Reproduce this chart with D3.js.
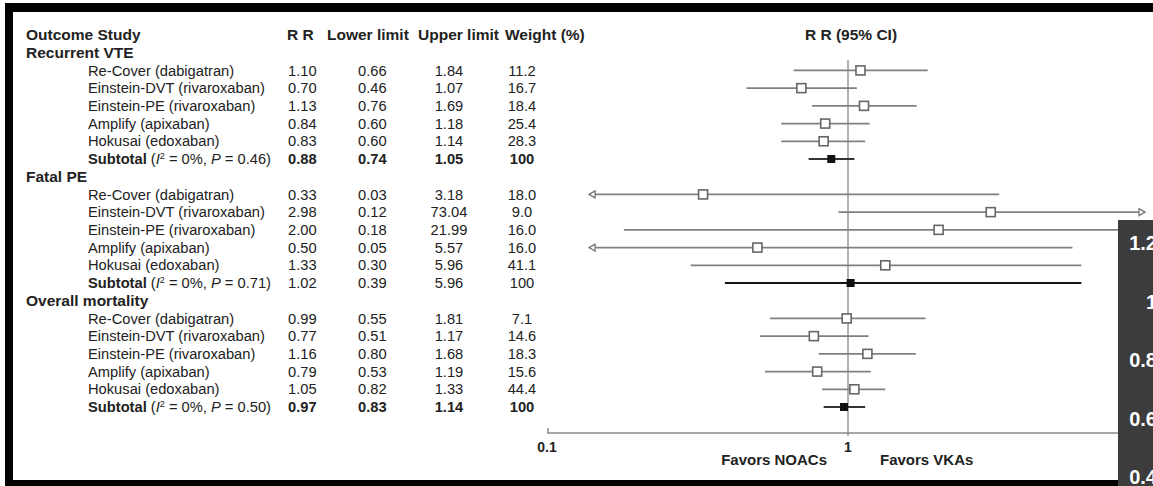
<!DOCTYPE html>
<html>
<head>
<meta charset="utf-8">
<script src="https://cdn.jsdelivr.net/npm/d3@7"></script>
<style>
  body { margin: 0; background: #fff; }
  svg { display: block; font-family: "Liberation Sans", Arial, sans-serif; }
</style>
</head>
<body>
<svg id="chart" width="1153" height="486"></svg>
<script>
// table data
const groups  = ["Recurrent VTE", "Fatal PE", "Overall mortality"];
const studies = ["Re-Cover (dabigatran)", "Einstein-DVT (rivaroxaban)", "Einstein-PE (rivaroxaban)",
                 "Amplify (apixaban)", "Hokusai (edoxaban)"];

// last entry of each array = subtotal
const rrVte  = ["1.10", "0.70", "1.13", "0.84", "0.83", "0.88"];
const loVte  = ["0.66", "0.46", "0.76", "0.60", "0.60", "0.74"];
const hiVte  = ["1.84", "1.07", "1.69", "1.18", "1.14", "1.05"];
const wtVte  = ["11.2", "16.7", "18.4", "25.4", "28.3", "100"];

const rrPe   = ["0.33", "2.98", "2.00", "0.50", "1.33", "1.02"];
const loPe   = ["0.03", "0.12", "0.18", "0.05", "0.30", "0.39"];
const hiPe   = ["3.18", "73.04", "21.99", "5.57", "5.96", "5.96"];
const wtPe   = ["18.0", "9.0", "16.0", "16.0", "41.1", "100"];
// the published figure starts the Einstein-DVT line near 0.93, not at 0.12
const peLineStart = [0.03, 0.93, 0.18, 0.05, 0.30, 0.39];

const rrMort = ["0.99", "0.77", "1.16", "0.79", "1.05", "0.97"];
const loMort = ["0.55", "0.51", "0.80", "0.53", "0.82", "0.83"];
const hiMort = ["1.81", "1.17", "1.68", "1.19", "1.33", "1.14"];
const wtMort = ["7.1", "14.6", "18.3", "15.6", "44.4", "100"];

const hetI2 = ["0%", "0%", "0%"];
const hetP  = ["0.46", "0.71", "0.50"];

const xTicks     = [0.1, 1];
const panelTicks = [1.2, 1, 0.8, 0.6, 0.4];   // edge of a neighbouring chart

const table = [
  { rr: rrVte,  lo: loVte,  hi: hiVte,  wt: wtVte,  start: loVte.map(Number), boldSub: true },
  { rr: rrPe,   lo: loPe,   hi: hiPe,   wt: wtPe,   start: peLineStart,       boldSub: false },
  { rr: rrMort, lo: loMort, hi: hiMort, wt: wtMort, start: loMort.map(Number), boldSub: true }
];

const svg = d3.select("#chart");
const ink = "#222";
const fs = 14.7;   // body text size

// rows: 0 header, then 7 rows per group (label, 5 studies, subtotal)
const y = d3.scaleLinear().domain([0, 21]).range([35, 407]);
const x = d3.scaleLog().domain([0.1, 10]).range([547, 1149]);
const clipLo = 0.138, clipHi = 9.7;   // where the arrows sit

// header
const head = svg.append("g").attr("fill", ink).attr("font-weight", "bold").attr("font-size", 15.5);
head.append("text").attr("x", 26).attr("y", y(0)).attr("dy", "0.35em").text("Outcome Study");
head.append("text").attr("x", 287).attr("y", y(0)).attr("dy", "0.35em").text("R R");
head.append("text").attr("x", 327).attr("y", y(0)).attr("dy", "0.35em").text("Lower limit");
head.append("text").attr("x", 418).attr("y", y(0)).attr("dy", "0.35em").text("Upper limit");
head.append("text").attr("x", 505).attr("y", y(0)).attr("dy", "0.35em").text("Weight (%)");
head.append("text").attr("x", x(1) + 3).attr("y", y(0)).attr("dy", "0.35em")
    .attr("text-anchor", "middle").text("R R (95% CI)");

// reference line at RR = 1
svg.append("line")
   .attr("x1", x(1)).attr("x2", x(1))
   .attr("y1", 60).attr("y2", 436)
   .attr("stroke", "#999").attr("stroke-width", 1.5);

// x-axis
svg.append("line")
   .attr("x1", x(0.1)).attr("x2", 1153)
   .attr("y1", 433).attr("y2", 433)
   .attr("stroke", "#8a8a8a").attr("stroke-width", 1.5);
svg.append("line")
   .attr("x1", x(0.1) + 1).attr("x2", x(0.1) + 1)
   .attr("y1", 428).attr("y2", 433)
   .attr("stroke", "#8a8a8a").attr("stroke-width", 1.5);
svg.selectAll(".tick-label")
   .data(xTicks)
   .enter().append("text")
   .attr("class", "tick-label")
   .attr("x", d => x(d))
   .attr("y", 447).attr("dy", "0.35em")
   .attr("text-anchor", "middle")
   .attr("font-size", 14).attr("font-weight", "bold").attr("fill", ink)
   .text(d => d);

svg.append("text").attr("x", x(1) - 21).attr("y", 460).attr("dy", "0.35em")
   .attr("text-anchor", "end").attr("font-size", 15).attr("font-weight", "bold").attr("fill", ink)
   .text("Favors NOACs");
svg.append("text").attr("x", x(1) + 32).attr("y", 460).attr("dy", "0.35em")
   .attr("font-size", 15).attr("font-weight", "bold").attr("fill", ink)
   .text("Favors VKAs");

function arrow(g, xe, yy, dir) {
  // small open arrowhead at a clipped end
  g.append("path")
   .attr("d", `M${xe},${yy} L${xe - 6 * dir},${yy - 3.5} L${xe - 6 * dir},${yy + 3.5} Z`)
   .attr("fill", "#fff").attr("stroke", "#777").attr("stroke-width", 1.3);
}

table.forEach((t, gi) => {
  const base = 1 + gi * 7;

  svg.append("text")
     .attr("x", 26).attr("y", y(base)).attr("dy", "0.35em")
     .attr("font-size", 15.5).attr("font-weight", "bold").attr("fill", ink)
     .text(groups[gi]);

  t.rr.forEach((rr, i) => {
    const row = base + 1 + i;
    const yy = y(row);
    const isSub = i === studies.length;
    const g = svg.append("g").attr("fill", ink).attr("font-size", fs);

    if (isSub) {
      const lab = g.append("text").attr("x", 88).attr("y", yy).attr("dy", "0.35em");
      lab.append("tspan").attr("font-weight", "bold").text("Subtotal");
      lab.append("tspan").text(" (");
      lab.append("tspan").attr("font-style", "italic").text("I");
      lab.append("tspan").attr("font-size", 9).attr("dy", "-0.6em").text("2");
      lab.append("tspan").attr("dy", "0.35em").text(" = " + hetI2[gi] + ", ");
      lab.append("tspan").attr("font-style", "italic").text("P");
      lab.append("tspan").text(" = " + hetP[gi] + ")");
    } else {
      g.append("text").attr("x", 88).attr("y", yy).attr("dy", "0.35em").text(studies[i]);
    }

    const w = isSub && t.boldSub ? "bold" : "normal";
    g.append("text").attr("x", 288).attr("y", yy).attr("dy", "0.35em").attr("font-weight", w).text(rr);
    g.append("text").attr("x", 358).attr("y", yy).attr("dy", "0.35em").attr("font-weight", w).text(t.lo[i]);
    g.append("text").attr("x", 449).attr("y", yy).attr("dy", "0.35em").attr("font-weight", w)
     .attr("text-anchor", "middle").text(t.hi[i]);
    g.append("text").attr("x", 522).attr("y", yy).attr("dy", "0.35em").attr("font-weight", w)
     .attr("text-anchor", "middle").text(t.wt[i]);

    // confidence interval
    const lo = +t.start[i], hi = +t.hi[i], est = +rr;
    const x1 = x(Math.max(lo, clipLo)), x2 = x(Math.min(hi, clipHi));
    svg.append("line")
       .attr("x1", x1).attr("x2", x2).attr("y1", yy).attr("y2", yy)
       .attr("stroke", isSub ? (gi === 1 ? "#111" : "#333") : "#808080")
       .attr("stroke-width", isSub ? 2 : 1.7);
    if (lo < clipLo) arrow(svg, x1, yy, -1);
    if (hi > clipHi) arrow(svg, x2, yy, 1);

    if (isSub) {
      svg.append("rect")
         .attr("x", x(est) - 4).attr("y", yy - 4).attr("width", 8).attr("height", 8)
         .attr("fill", "#111");
    } else {
      svg.append("rect")
         .attr("x", x(est) - 4.5).attr("y", yy - 4.5).attr("width", 9).attr("height", 9)
         .attr("fill", "#fff").attr("stroke", "#666").attr("stroke-width", 1.6);
    }
  });
});

// black frame of the screenshot
svg.append("rect").attr("x", 5).attr("y", 3).attr("width", 1148).attr("height", 9).attr("fill", "#000");
svg.append("rect").attr("x", 5).attr("y", 3).attr("width", 8).attr("height", 483).attr("fill", "#000");
svg.append("rect").attr("x", 5).attr("y", 480).attr("width", 1148).attr("height", 6).attr("fill", "#000");

// dark panel of the neighbouring chart on the right (cut by the screenshot edge)
svg.append("rect").attr("x", 1118).attr("y", 220).attr("width", 35).attr("height", 266).attr("fill", "#3c3c3c");
const py = d3.scaleLinear().domain([0.4, 1.2]).range([477, 243]);
svg.selectAll(".panel-tick")
   .data(panelTicks)
   .enter().append("text")
   .attr("class", "panel-tick")
   .attr("x", 1157).attr("y", d => py(d)).attr("dy", "0.35em")
   .attr("text-anchor", "end")
   .attr("font-size", 20).attr("font-weight", "bold").attr("fill", "#fff")
   .text(d => d);
</script>
</body>
</html>
